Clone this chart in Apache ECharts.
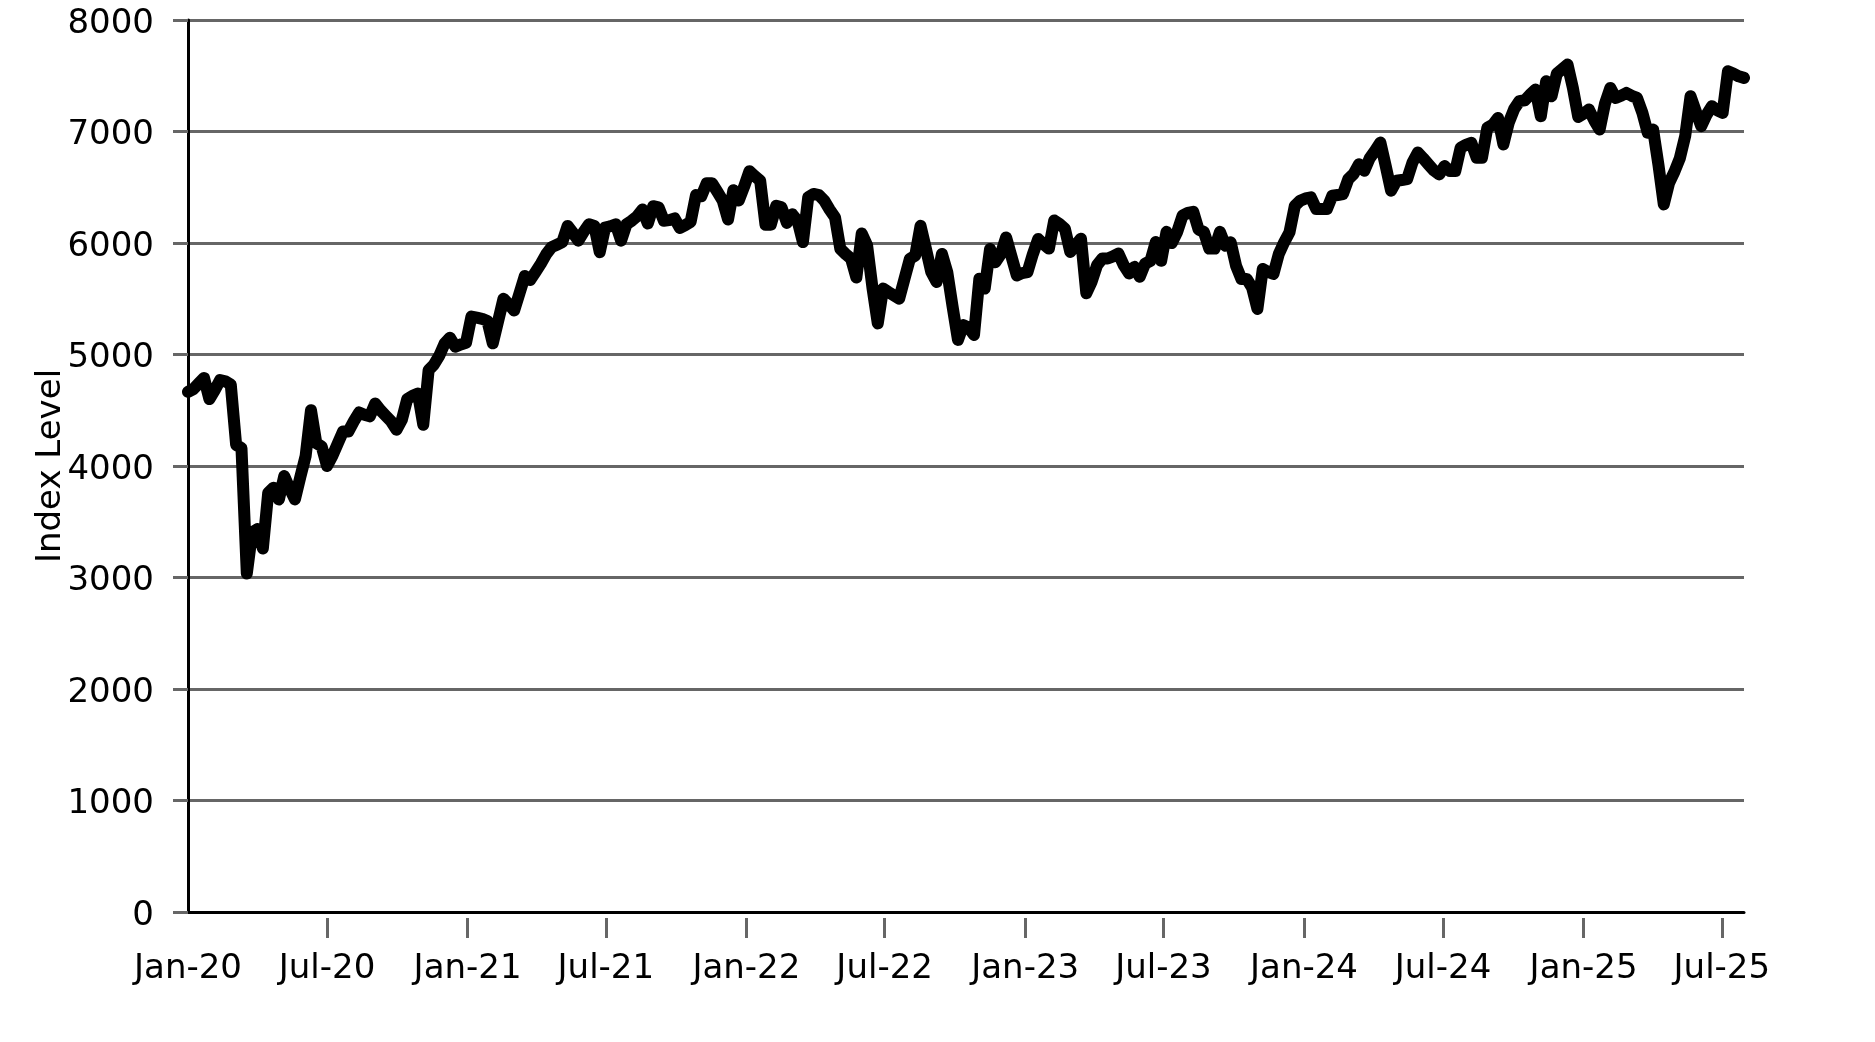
<!DOCTYPE html>
<html>
<head>
<meta charset="utf-8">
<script src="https://cdn.jsdelivr.net/npm/echarts@6/dist/echarts.min.js"></script>
<style>
html,body{margin:0;padding:0;background:#fff;}
#chart{width:1875px;height:1042px;}
</style>
</head>
<body>
<div id="chart"></div>
<script>
// Weekly index levels, first observation 2020-01-01, one value per week
const v2020 = [4665,4690,4740,4790,4600,4680,4770,4760,4730,4190,4160,3035,3405,3435,3260,3760,3805,3700,3910,3800,3700,3900,4090,4500,4205,4175,4000,4090,4200,4310,4310,4400,4480,4460,4445,4560,4500,4450,4400,4325,4415,4600,4630,4650,4370,4860,4910,4990,5100,5150,5070,5090,5105];
const v2021 = [5340,5330,5320,5300,5100,5300,5500,5450,5395,5550,5705,5668,5740,5815,5900,5963,5985,6008,6153,6090,6021,6100,6168,6153,5918,6138,6150,6168,6021,6168,6200,6240,6300,6175,6330,6320,6200,6205,6220,6135,6160,6190,6430,6420,6536,6536,6460,6381,6211,6474,6381,6505];
const v2022 = [6644,6600,6560,6164,6164,6334,6320,6180,6258,6200,6008,6412,6440,6430,6380,6300,6230,5947,5900,5860,5690,6085,5980,5600,5279,5591,5560,5531,5501,5680,5858,5887,6154,5950,5740,5650,5902,5739,5427,5131,5264,5240,5175,5680,5591,5947,5828,5900,6050,5880,5709,5730];
const v2023 = [5739,5900,6036,5990,5950,6202,6170,6128,5920,5980,6039,5549,5653,5800,5861,5861,5880,5905,5800,5727,5786,5697,5816,5840,6009,5840,6100,6000,6100,6245,6270,6280,6120,6098,5950,5950,6100,5976,6006,5797,5678,5678,5600,5409,5767,5740,5722,5901,6006,6096,6334,6379];
const v2024 = [6400,6409,6304,6304,6304,6424,6430,6439,6573,6620,6707,6648,6760,6827,6901,6690,6469,6558,6565,6573,6722,6812,6760,6704,6650,6615,6690,6645,6645,6854,6880,6899,6764,6764,7033,7060,7122,6884,7078,7200,7272,7280,7330,7376,7137,7451,7316,7520,7560,7600,7390,7130];
const v2025 = [7160,7197,7100,7018,7250,7391,7300,7320,7346,7320,7301,7167,6988,7018,6700,6346,6540,6640,6760,6958,7316,7180,7048,7150,7227,7190,7167,7540,7520,7495,7481];

const tickDates = ['2020-01-01','2020-07-01','2021-01-01','2021-07-01','2022-01-01','2022-07-01','2023-01-01','2023-07-01','2024-01-01','2024-07-01','2025-01-01','2025-07-01'];
const tickLabels = ['Jan-20','Jul-20','Jan-21','Jul-21','Jan-22','Jul-22','Jan-23','Jul-23','Jan-24','Jul-24','Jan-25','Jul-25'];

const yMin = 0, yMax = 8000, yStep = 1000;

const DAY = 86400000;
const toTs = s => { const p = s.split('-').map(Number); return Date.UTC(p[0], p[1]-1, p[2]); };
const t0 = toTs('2020-01-01');
const values = [].concat(v2020, v2021, v2022, v2023, v2024, v2025);
const data = values.map((v, i) => [t0 + i * 7 * DAY, v]);
const tMax = data[data.length - 1][0];
const tickTs = tickDates.map(toTs);
const labelOf = {};
tickTs.forEach((t, i) => { labelOf[t] = tickLabels[i]; });

const FONT = 'DejaVu Sans';
const chart = echarts.init(document.getElementById('chart'), null, {renderer: 'canvas'});
chart.setOption({
  animation: false,
  backgroundColor: '#fff',
  grid: {left: 188, right: 131, top: 20, bottom: 130, containLabel: false},
  xAxis: [{
    type: 'value', min: t0, max: tMax,
    axisLine: {show: true, lineStyle: {color: '#000', width: 3}},
    axisTick: {show: false},
    splitLine: {show: false},
    axisLabel: {
      show: true, customValues: tickTs, margin: 40,
      fontFamily: FONT, fontSize: 34, color: '#000',
      formatter: v => labelOf[v] || ''
    }
  }, {
    type: 'value', min: t0, max: tMax, position: 'bottom', offset: 6,
    axisLine: {show: false},
    axisTick: {show: true, customValues: tickTs.slice(1), length: 20, lineStyle: {color: '#666', width: 3}},
    splitLine: {show: false},
    axisLabel: {show: false}
  }],
  yAxis: {
    type: 'value', min: yMin, max: yMax, interval: yStep,
    name: 'Index Level', nameLocation: 'middle', nameGap: 120, nameMoveOverlap: false,
    nameTextStyle: {fontFamily: FONT, fontSize: 34, color: '#000'},
    axisLine: {show: true, lineStyle: {color: '#000', width: 3}},
    axisTick: {show: true, length: 15, lineStyle: {color: '#666', width: 3}},
    splitLine: {show: true, lineStyle: {color: '#666', width: 3}},
    axisLabel: {fontFamily: FONT, fontSize: 34, color: '#000', margin: 34,
      verticalAlign: 'top', lineHeight: 8, formatter: v => String(v)}
  },
  series: [{
    type: 'line', xAxisIndex: 0, data: data, showSymbol: false, symbol: 'none',
    lineStyle: {color: '#000', width: 12, cap: 'round', join: 'round'},
    z: 5
  }]
});
</script>
</body>
</html>
